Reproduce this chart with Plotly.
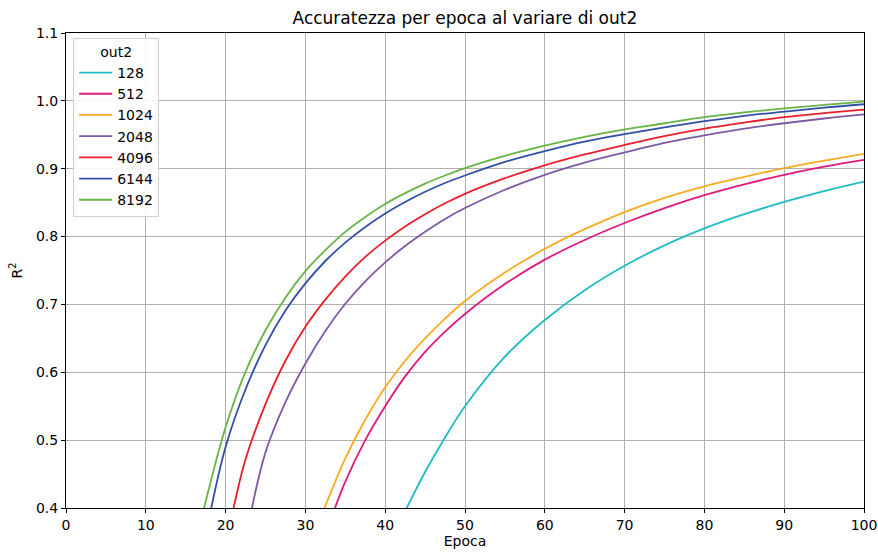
import plotly.graph_objects as go

# Values (epoch, R^2)
labels = ["128", "512", "1024", "2048", "4096", "6144", "8192"]

ep_128 = [42.7, 45, 47.5, 50, 55, 60, 65, 70, 75, 80, 85, 90, 95, 100]
r2_128 = [0.400, 0.453, 0.504, 0.550, 0.623, 0.677, 0.721, 0.757, 0.787, 0.812, 0.833, 0.851, 0.867, 0.881]

ep_512 = [33.7, 35, 37.5, 40, 42.5, 45, 47.5, 50, 55, 60, 65, 70, 75, 80, 85, 90, 95, 100]
r2_512 = [0.400, 0.439, 0.500, 0.550, 0.594, 0.630, 0.660, 0.686, 0.730, 0.766, 0.795, 0.820, 0.842, 0.861, 0.877, 0.891, 0.903, 0.913]

ep_1024 = [32.4, 35, 37.5, 40, 42.5, 45, 47.5, 50, 55, 60, 65, 70, 75, 80, 85, 90, 95, 100]
r2_1024 = [0.400, 0.473, 0.530, 0.578, 0.617, 0.650, 0.679, 0.705, 0.747, 0.782, 0.811, 0.836, 0.857, 0.874, 0.888, 0.901, 0.912, 0.922]

ep_2048 = [23.3, 25, 27.5, 30, 32.5, 35, 37.5, 40, 42.5, 45, 47.5, 50, 55, 60, 65, 70, 75, 80, 85, 90, 95, 100]
r2_2048 = [0.400, 0.482, 0.556, 0.613, 0.661, 0.701, 0.734, 0.762, 0.786, 0.807, 0.826, 0.842, 0.869, 0.891, 0.909, 0.924, 0.938, 0.949, 0.959, 0.967, 0.974, 0.980]

ep_4096 = [21.0, 22.5, 25, 27.5, 30, 32.5, 35, 37.5, 40, 42.5, 45, 47.5, 50, 55, 60, 65, 70, 75, 80, 85, 90, 95, 100]
r2_4096 = [0.400, 0.472, 0.553, 0.617, 0.667, 0.707, 0.741, 0.770, 0.794, 0.815, 0.833, 0.849, 0.863, 0.886, 0.905, 0.921, 0.935, 0.948, 0.959, 0.968, 0.976, 0.982, 0.987]

ep_6144 = [18.2, 20, 22.5, 25, 27.5, 30, 32.5, 35, 37.5, 40, 42.5, 45, 47.5, 50, 55, 60, 65, 70, 75, 80, 85, 90, 95, 100]
r2_6144 = [0.400, 0.490, 0.575, 0.640, 0.691, 0.731, 0.764, 0.791, 0.814, 0.834, 0.851, 0.866, 0.879, 0.890, 0.910, 0.926, 0.940, 0.951, 0.961, 0.970, 0.978, 0.984, 0.990, 0.995]

ep_8192 = [17.3, 20, 22.5, 25, 27.5, 30, 32.5, 35, 37.5, 40, 42.5, 45, 47.5, 50, 55, 60, 65, 70, 75, 80, 85, 90, 95, 100]
r2_8192 = [0.400, 0.519, 0.601, 0.662, 0.710, 0.749, 0.780, 0.807, 0.829, 0.848, 0.864, 0.878, 0.890, 0.901, 0.919, 0.934, 0.947, 0.958, 0.967, 0.976, 0.983, 0.989, 0.994, 0.999]

epochs = [ep_128, ep_512, ep_1024, ep_2048, ep_4096, ep_6144, ep_8192]
r2s = [r2_128, r2_512, r2_1024, r2_2048, r2_4096, r2_6144, r2_8192]
colors = ["#1fbcc6", "#e0197f", "#f7ac1f", "#7e5aa6", "#ea1f2a", "#3250a8", "#68b447"]

x_ticks = list(range(0, 101, 10))
y_ticks = [0.4, 0.5, 0.6, 0.7, 0.8, 0.9, 1.0, 1.1]

fig = go.Figure()
for lab, xs, ys, c in zip(labels, epochs, r2s, colors):
    fig.add_trace(go.Scatter(
        x=xs, y=ys, mode="lines", name=lab,
        line=dict(color=c, width=1.8, shape="spline", smoothing=1.0),
    ))

font_family = "DejaVu Sans"
fig.update_layout(
    width=878, height=553,
    margin=dict(l=66, r=14, t=33, b=45),
    paper_bgcolor="white", plot_bgcolor="white",
    font=dict(family=font_family, size=14, color="black"),
    title=dict(text="Accuratezza per epoca al variare di out2", x=0.5295, xanchor="center",
               y=0.967, yanchor="middle", font=dict(size=17, color="black")),
    showlegend=True,
    legend=dict(
        x=0.009, y=0.99, xanchor="left", yanchor="top",
        bgcolor="rgba(255,255,255,0.9)", bordercolor="#d0d0d0", borderwidth=1,
        title=dict(text="out2", side="top center", font=dict(size=14)),
        font=dict(size=14), tracegroupgap=0, itemwidth=33,
    ),
)
fig.update_xaxes(
    range=[0, 100], tickvals=x_ticks, ticktext=[str(v) for v in x_ticks],
    showgrid=True, gridcolor="#b0b0b0", gridwidth=1,
    showline=True, linecolor="black", linewidth=1, mirror=True,
    ticks="outside", ticklen=4, tickcolor="black", automargin=False,
    title=dict(text="Epoca", standoff=4, font=dict(size=14)),
    zeroline=False,
)
fig.update_yaxes(
    range=[0.4, 1.1], tickvals=y_ticks, ticktext=[f"{v:.1f}" for v in y_ticks],
    showgrid=True, gridcolor="#b0b0b0", gridwidth=1,
    showline=True, linecolor="black", linewidth=1, mirror=True,
    ticks="outside", ticklen=4, tickcolor="black", automargin=False,
    title=dict(text="R<sup>2</sup>", standoff=10, font=dict(size=14)),
    zeroline=False,
)

fig.write_html("out.html")
